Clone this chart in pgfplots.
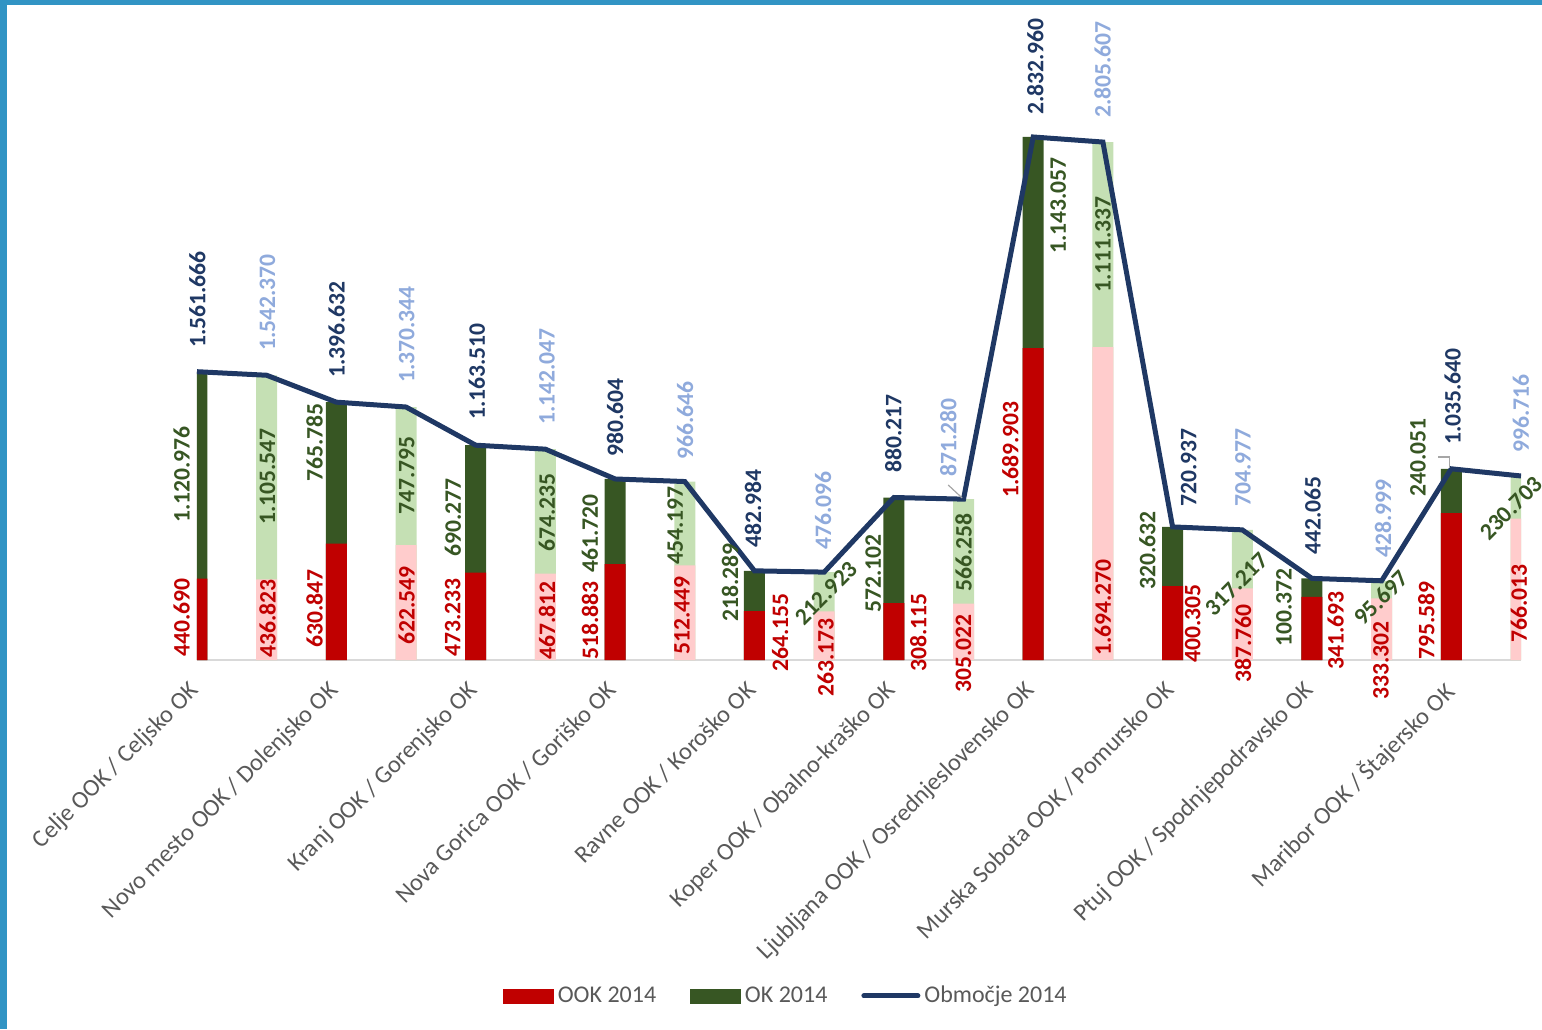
\documentclass[border=0pt]{standalone}
\usepackage{pgfplots}
\pgfplotsset{compat=1.18}
\usepackage{pgfplotstable}
\usepackage{fontspec}
\setmainfont{Carlito}

\definecolor{cRed}{HTML}{C00000}
\definecolor{cGreen}{HTML}{375623}
\definecolor{cPink}{HTML}{FFCCCC}
\definecolor{cLGreen}{HTML}{C5E0B4}
\definecolor{cNavy}{HTML}{1F3864}
\definecolor{cLBlue}{HTML}{8FAADC}
\definecolor{cGray}{HTML}{595959}
\definecolor{cGrid}{HTML}{D9D9D9}
\definecolor{cFrame}{HTML}{3194C4}

% dark bars (2014)
\pgfplotstableread{
x ook ok tot
0 440690 1120976 1561666
2 630847 765785 1396632
4 473233 690277 1163510
6 518883 461720 980604
8 264155 218289 482984
10 308115 572102 880217
12 1689903 1143057 2832960
14 400305 320632 720937
16 341693 100372 442065
18 795589 240051 1035640
}\dark
% light bars
\pgfplotstableread{
x ook ok tot
1 436823 1105547 1542370
3 622549 747795 1370344
5 467812 674235 1142047
7 512449 454197 966646
9 263173 212923 476096
11 305022 566258 871280
13 1694270 1111337 2805607
15 387760 317217 704977
17 333302 95697 428999
19 766013 230703 996716
}\light
% line (Obmocje)
\pgfplotstableread{
x tot
0 1561666
1 1542370
2 1396632
3 1370344
4 1163510
5 1142047
6 980604
7 966646
8 482984
9 476096
10 880217
11 871280
12 2832960
13 2805607
14 720937
15 704977
16 442065
17 428999
18 1035640
19 996716
}\line

% label positions
\pgfplotstableread{
x y lab
0.007 1690100 1.561.666
2.004 1527600 1.396.632
4.016 1300100 1.163.510
5.999 1099650 980.604
7.981 606700 482.984
9.993 1013000 880.217
12.03 2952300 2.832.960
14.23 828800 720.937
16.01 568800 442.065
18.02 1164700 1.035.640
}\totD
\pgfplotstableread{
x y lab
1.013 1673850 1.542.370
3.010 1500500 1.370.344
5.022 1273000 1.142.047
7.004 1083400 966.646
8.987 595900 476.096
10.78 991300 871.280
12.996 2936000 2.805.607
15.01 828800 704.977
17.02 552500 428.999
19.0 1121300 996.716
}\totL
\pgfplotstableread{
x y lab
-0.22 742100 1.120.976
1.013 731300 1.105.547
1.688 964200 765.785
3.010 785500 747.795
3.671 557950 690.277
5.022 585000 674.235
5.639 471300 461.720
6.861 514600 454.197
7.651 205850 218.289
9.705 254600 572.102
11.0 368400 566.258
12.36 2199300 1.143.057
13.0 1988000 1.111.337
13.64 379200 320.632
15.60 70400 100.372
17.52 883000 240.051
}\okV
\pgfplotstableread{
x y lab
9.03 362900 212.923
14.92 411700 317.217
16.99 335900 95.697
18.86 823400 230.703
}\okR
\pgfplotstableread{
x y lab
-0.22 16250 440.690
1.013 10800 436.823
1.688 65000 630.847
3.010 81250 622.549
3.671 16250 473.233
5.022 0 467.812
5.639 0 518.883
6.96 27100 512.449
8.37 -65000 264.155
9.02 -200400 263.173
10.35 -65000 308.115
11.0 -178800 305.022
11.67 877550 1.689.903
13.0 21700 1.694.270
14.29 -16250 400.305
15.01 -124600 387.760
16.34 -54200 341.693
16.99 -216700 333.302
17.64 0 795.589
18.97 92100 766.013
}\ookV

\pgfplotsset{
  common/.style={at={(0pt,0pt)}, anchor=south west,
    scale only axis, width=662pt, height=330pt,
    xmin=0, xmax=19, ymin=0, ymax=3575000},
  vlab/.style={draw=none, mark=none, forget plot, point meta=explicit symbolic, nodes near coords,
    every node near coord/.append style={rotate=90, anchor=west, inner sep=0pt,
      font=\bfseries\fontsize{11.8}{13}\selectfont, text=#1}},
}

\begin{document}
\begin{tikzpicture}
\useasboundingbox (-98.5pt,-184.5pt) rectangle (672.5pt,330pt);
\fill[cFrame] (-98.5pt,-184.5pt) rectangle (-95pt,330pt);
\fill[cFrame] (-98.5pt,327.5pt) rectangle (672.5pt,330pt);
\begin{axis}[
  common,
  axis x line=bottom, axis y line=none,
  x axis line style={-, draw=cGrid, line width=1pt},
  xtick={0,2,...,18},
  xticklabels={Celje OOK / Celjsko OK, Novo mesto OOK / Dolenjsko OK, Kranj OOK / Gorenjsko OK, Nova Gorica OOK / Goriško OK, Ravne OOK / Koroško OK, Koper OOK / Obalno-kraško OK, Ljubljana OOK / Osrednjeslovensko OK, Murska Sobota OOK / Pomursko OK, Ptuj OOK / Spodnjepodravsko OK, Maribor OOK / Štajersko OK},
  xtick style={draw=none},
  ytick=\empty, scaled y ticks=false,
  xticklabel style={rotate=45, anchor=north east, font=\fontsize{12.2}{13}\selectfont, text=cGray, inner sep=0pt, yshift=-2pt, xshift=-8.5pt},
  legend columns=3,
  legend style={at={(0.4455,-0.509)}, anchor=center, draw=none, fill=none,
    font=\fontsize{12}{14}\selectfont, text=cGray,
    /tikz/every even column/.append style={column sep=15pt}},
]
\addlegendimage{legend image code/.code={\fill[cRed] (0pt,-3.5pt) rectangle (25pt,3.5pt);}}
\addlegendentry{OOK 2014}
\addlegendimage{legend image code/.code={\fill[cGreen] (0pt,-3.5pt) rectangle (25pt,3.5pt);}}
\addlegendentry{OK 2014}
\addlegendimage{legend image code/.code={\draw[cNavy, line width=2.5pt, line cap=round] (0pt,0pt) -- (27pt,0pt);}}
\addlegendentry{Območje 2014}

% bars: total (green) then OOK (red) on top
\addplot[ybar, bar width=10.5pt, bar shift=0pt, fill=cGreen, draw=none, forget plot] table[x=x, y=tot] {\dark};
\addplot[ybar, bar width=10.5pt, bar shift=0pt, fill=cRed, draw=none, forget plot] table[x=x, y=ook] {\dark};
\addplot[ybar, bar width=10.5pt, bar shift=0pt, fill=cLGreen, draw=none, forget plot] table[x=x, y=tot] {\light};
\addplot[ybar, bar width=10.5pt, bar shift=0pt, fill=cPink, draw=none, forget plot] table[x=x, y=ook] {\light};
% line
\addplot[cNavy, line width=2.5pt, mark=none, forget plot] table[x=x, y=tot] {\line};

% leader lines
\draw[gray!70, line width=0.6pt] (axis cs:10.78,948000) -- (axis cs:10.98,877600);
\draw[gray!70, line width=0.6pt] (axis cs:17.81,1099650) -- (axis cs:17.97,1099650) -- (axis cs:17.97,1040000);
\end{axis}

% data labels (unclipped)
\begin{axis}[common, hide axis, clip=false]
\addplot[vlab=cNavy] table[x=x, y=y, meta=lab] {\totD};
\addplot[vlab=cLBlue] table[x=x, y=y, meta=lab] {\totL};
\addplot[vlab=cGreen] table[x=x, y=y, meta=lab] {\okV};
\addplot[draw=none, mark=none, forget plot, point meta=explicit symbolic, nodes near coords,
  every node near coord/.append style={rotate=45, anchor=center, inner sep=0pt, font=\bfseries\fontsize{11.8}{13}\selectfont, text=cGreen}]
  table[x=x, y=y, meta=lab] {\okR};
\addplot[vlab=cRed] table[x=x, y=y, meta=lab] {\ookV};
\end{axis}
\end{tikzpicture}
\end{document}
